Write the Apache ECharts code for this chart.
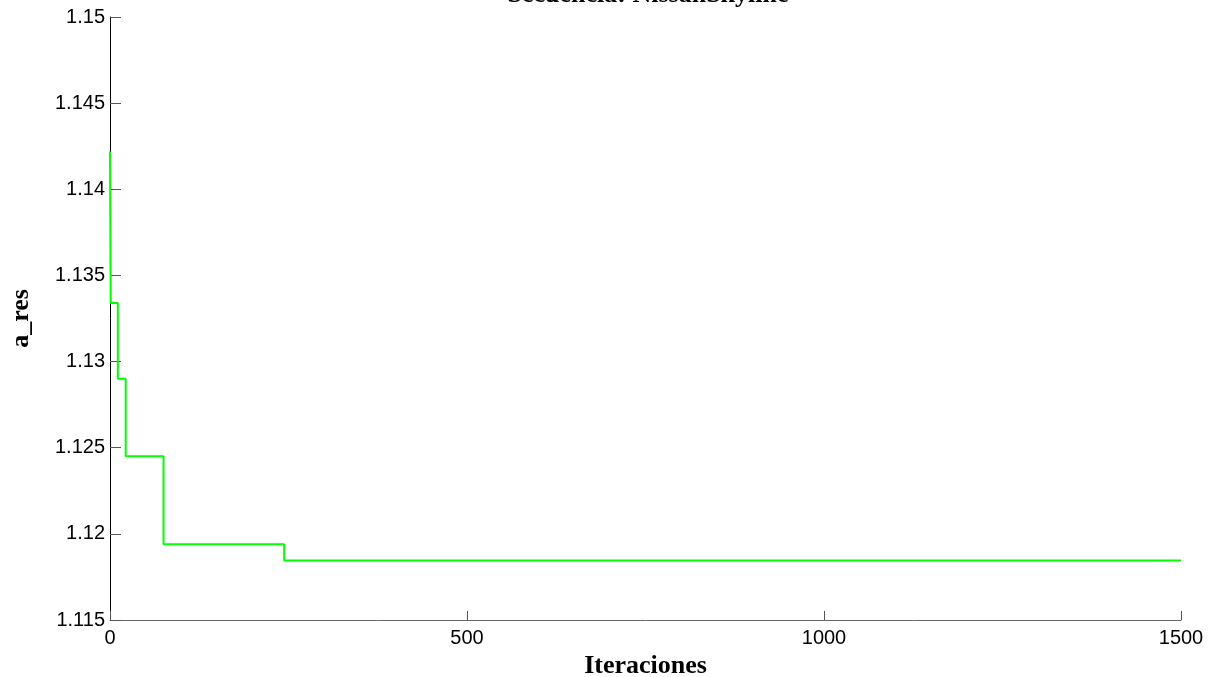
<!DOCTYPE html>
<html>
<head>
<meta charset="utf-8">
<script src="https://cdn.jsdelivr.net/npm/echarts@6/dist/echarts.min.js"></script>
<style>
  html, body { margin: 0; padding: 0; background: #fff; }
  #chart { width: 1212px; height: 677px; }
</style>
</head>
<body>
<div id="chart"></div>
<script>
// Best objective value found so far, per optimisation iteration
const iterations = [0, 1, 11, 22, 75, 244, 1500];
const aRes = [1.1422, 1.1334, 1.1290, 1.1245, 1.1194, 1.11845, 1.11845];

const xTicks = { min: 0, max: 1500, interval: 500 };
const yTicks = { min: 1.115, max: 1.15, interval: 0.005 };

const titleText = 'Secuencia: NissanSkyline';
const xLabel = 'Iteraciones';
const yLabel = 'a_res';

const points = iterations.map((it, i) => [it, aRes[i]]);

const chart = echarts.init(document.getElementById('chart'), null, { renderer: 'canvas' });
const serifBold = { fontFamily: 'Liberation Serif, Times New Roman, serif', fontSize: 26, fontWeight: 'bold', color: '#000' };
const labelFont = { fontFamily: 'Liberation Sans, Arial, sans-serif', fontSize: 20, color: '#000' };

chart.setOption({
  animation: false,
  backgroundColor: '#fff',
  title: {
    text: titleText,
    left: 643,
    textAlign: 'center',
    top: -23,
    textStyle: serifBold
  },
  grid: { left: 110, right: 31, top: 17, bottom: 57, containLabel: false, outerBoundsMode: 'none' },
  xAxis: {
    type: 'value',
    min: xTicks.min, max: xTicks.max, interval: xTicks.interval,
    name: xLabel,
    nameLocation: 'middle',
    nameGap: 29,
    nameTextStyle: serifBold,
    axisLine: { show: true, lineStyle: { color: '#666', width: 1 } },
    axisTick: { show: true, inside: true, length: 9, lineStyle: { color: '#555' } },
    axisLabel: Object.assign({ margin: 8, formatter: v => String(v) }, labelFont),
    splitLine: { show: false }
  },
  yAxis: {
    type: 'value',
    min: yTicks.min, max: yTicks.max, interval: yTicks.interval,
    name: yLabel,
    nameLocation: 'middle',
    nameGap: 76,
    nameRotate: 90,
    nameTextStyle: serifBold,
    axisLine: { show: true, lineStyle: { color: '#000', width: 1 } },
    axisTick: { show: true, inside: true, length: 11, lineStyle: { color: '#555' } },
    axisLabel: Object.assign({ margin: 5, formatter: v => String(+v.toFixed(3)) }, labelFont),
    splitLine: { show: false }
  },
  series: [{
    type: 'line',
    data: points,
    step: 'end',
    symbol: 'none',
    lineStyle: { color: '#00ff00', width: 2 },
    z: 3
  }]
});
</script>
</body>
</html>
